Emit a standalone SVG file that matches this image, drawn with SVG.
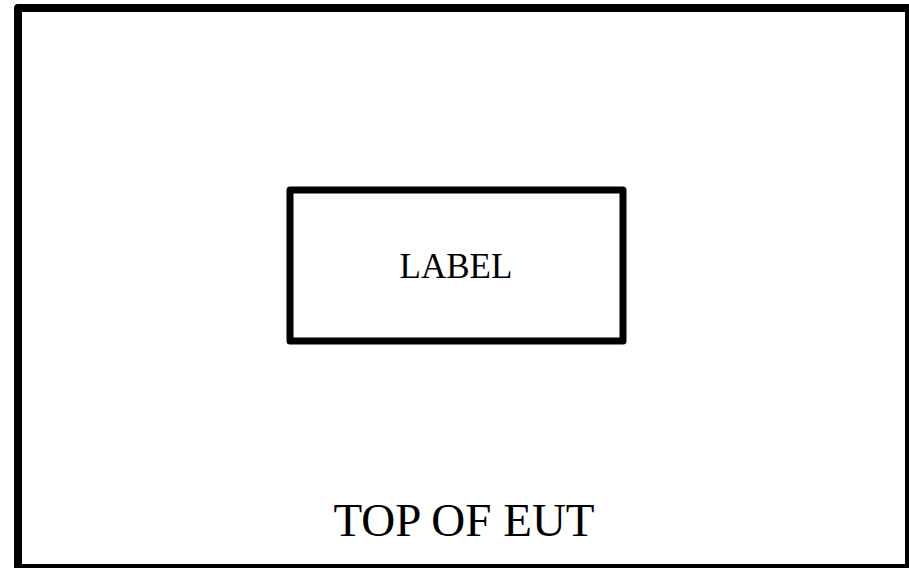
<svg xmlns="http://www.w3.org/2000/svg" width="909" height="568" viewBox="0 0 909 568">
<style>
.box{fill:none;stroke:#000;stroke-linejoin:round}
.t{font-family:"Liberation Serif","Times New Roman",serif;fill:#000;text-anchor:middle}
</style>
<rect width="909" height="568" fill="#fff"/>
<g id="eut">
<rect class="box" x="18" y="8" width="891" height="560" stroke-width="8"/>
<text class="t" x="464" y="536" font-size="47">TOP OF EUT</text>
</g>
<g id="label">
<rect class="box" x="290" y="190" width="333" height="151" stroke-width="7"/>
<text class="t" x="456" y="278" font-size="35">LABEL</text>
</g>
<g id="connectors"/>
</svg>
